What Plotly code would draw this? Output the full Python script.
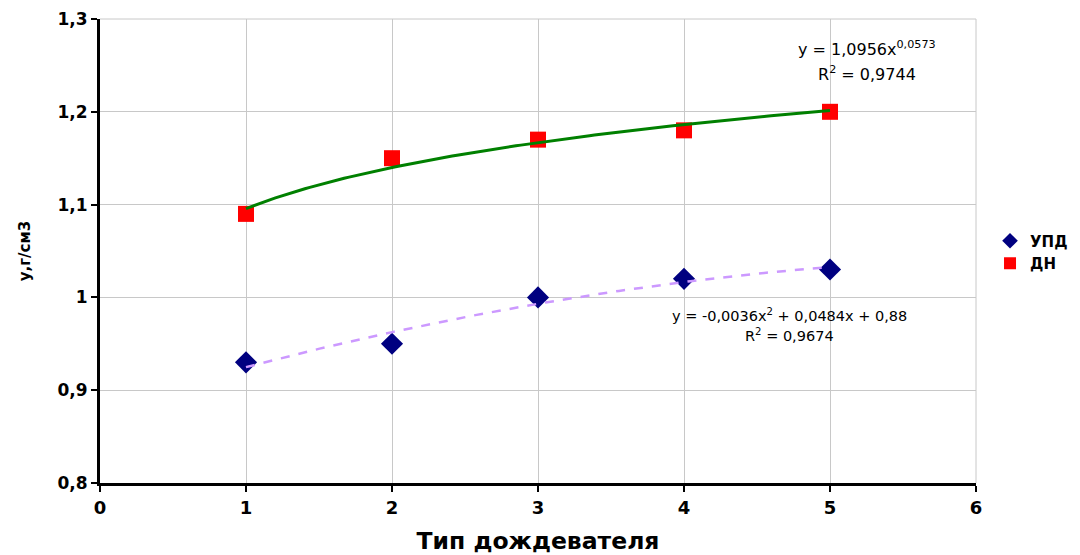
import numpy as np
import plotly.graph_objects as go

x_types = [1, 2, 3, 4, 5]
upd = [0.93, 0.95, 1.00, 1.02, 1.03]
dn = [1.09, 1.15, 1.17, 1.18, 1.20]
series_names = ["УПД", "ДН"]
x_title = "Тип дождевателя"
y_title = "у,г/см3"
eq_dn = ["y = 1,0956x<sup>0,0573</sup>", "R<sup>2</sup> = 0,9744"]
eq_upd = ["y = -0,0036x<sup>2</sup> + 0,0484x + 0,88", "R<sup>2</sup> = 0,9674"]

xs = np.array(x_types, dtype=float)
xf = np.linspace(1, 5, 120)
# polynomial trend for УПД
pc = np.polyfit(xs, np.array(upd), 2)
yf_upd = np.polyval(pc, xf)
# power trend for ДН
b, lna = np.polyfit(np.log(xs), np.log(np.array(dn)), 1)
yf_dn = np.exp(lna) * xf ** b

fig = go.Figure()
fig.add_trace(go.Scatter(x=x_types, y=upd, mode="markers", name=series_names[0],
                         marker=dict(symbol="diamond", size=17, color="#000080")))
fig.add_trace(go.Scatter(x=x_types, y=dn, mode="markers", name=series_names[1],
                         marker=dict(symbol="square", size=16, color="#ff0000")))
fig.add_trace(go.Scatter(x=xf, y=yf_upd, mode="lines", showlegend=False,
                         line=dict(color="#cc99ff", width=2.5, dash="dash"), hoverinfo="skip"))
fig.add_trace(go.Scatter(x=xf, y=yf_dn, mode="lines", showlegend=False,
                         line=dict(color="#008000", width=3), hoverinfo="skip"))

wide = "DejaVu Sans, Verdana, sans-serif"
fig.update_layout(
    width=1064, height=547,
    margin=dict(l=92, r=96, t=11, b=72, autoexpand=False),
    paper_bgcolor="white", plot_bgcolor="white",
    separators=", ",
    font=dict(family=wide, color="black"),
    showlegend=True,
    legend=dict(x=1.016, y=0.498, xanchor="left", yanchor="middle",
                font=dict(family=wide, size=15, color="black", weight="bold"),
                itemsizing="constant", itemwidth=30, tracegroupgap=2,
                bgcolor="rgba(0,0,0,0)"),
    xaxis=dict(range=[0, 6], tick0=0, dtick=1, showgrid=True, gridcolor="#c8c8c8", gridwidth=1,
               showline=True, linecolor="black", linewidth=3, ticks="outside", ticklen=6,
               tickwidth=2, tickcolor="black", zeroline=False, mirror=False, automargin=False,
               ticklabeloverflow="allow",
               tickfont=dict(family=wide, size=18, weight="bold"),
               title=dict(text=x_title, font=dict(family=wide, size=23.5, weight="bold"), standoff=16)),
    yaxis=dict(range=[0.8, 1.3], tick0=0.8, dtick=0.1, showgrid=True, gridcolor="#c8c8c8", gridwidth=1,
               showline=True, linecolor="black", linewidth=3, ticks="outside", ticklen=6,
               tickwidth=2, tickcolor="black", zeroline=False, automargin=False,
               ticklabeloverflow="allow",
               tickfont=dict(family=wide, size=17, weight="bold"),
               title=dict(text=y_title, font=dict(family=wide, size=15, weight="bold"), standoff=24)),
    shapes=[
        dict(type="line", xref="paper", yref="paper", x0=1, x1=1, y0=0, y1=1,
             line=dict(color="#c8c8c8", width=1)),
        dict(type="line", xref="paper", yref="paper", x0=0, x1=1, y0=1, y1=1,
             line=dict(color="#c8c8c8", width=1)),
    ],
    annotations=[
        dict(x=5.25, y=1.268, xref="x", yref="y", text=eq_dn[0], showarrow=False,
             font=dict(family=wide, size=16)),
        dict(x=5.25, y=1.241, xref="x", yref="y", text=eq_dn[1], showarrow=False,
             font=dict(family=wide, size=16)),
        dict(x=4.72, y=0.981, xref="x", yref="y", text=eq_upd[0], showarrow=False,
             font=dict(family=wide, size=14.5)),
        dict(x=4.72, y=0.960, xref="x", yref="y", text=eq_upd[1], showarrow=False,
             font=dict(family=wide, size=14.5)),
    ],
)

fig.write_html("out.html")
